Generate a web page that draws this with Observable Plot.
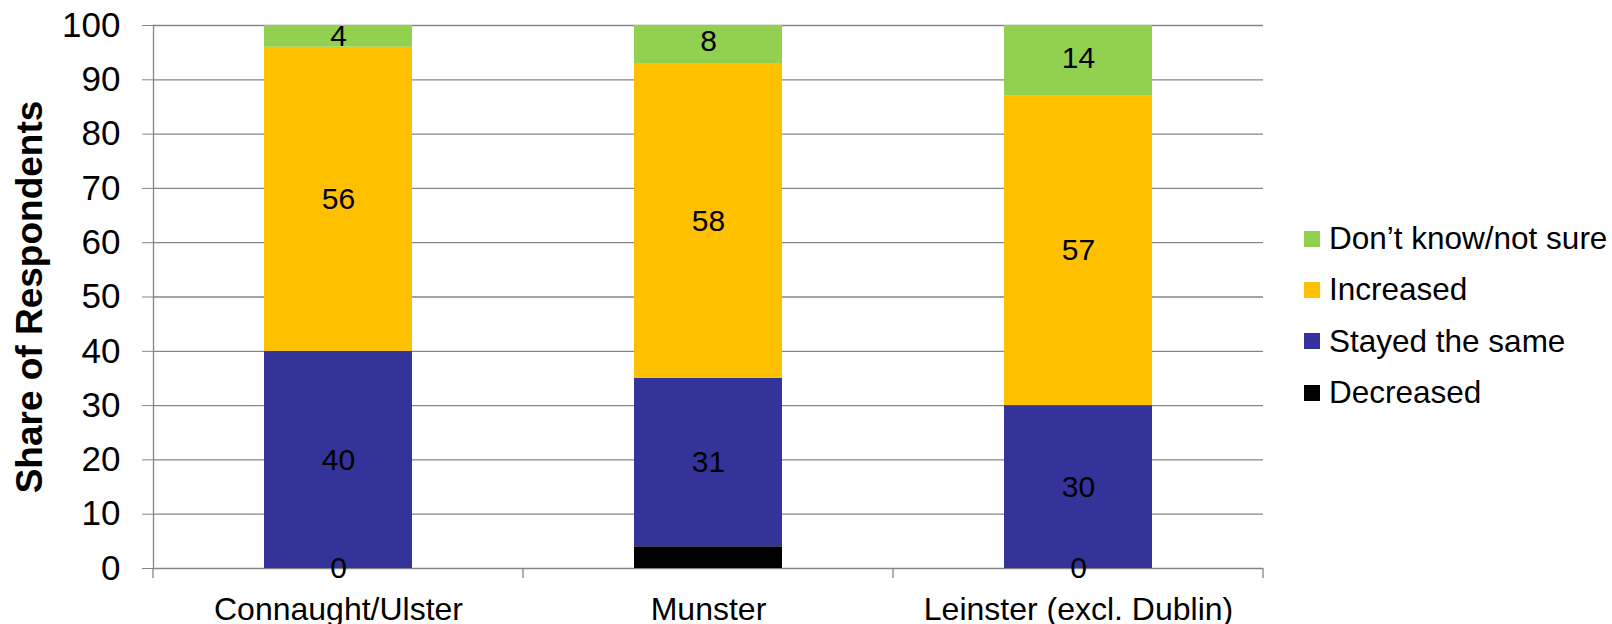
<!DOCTYPE html>
<html>
<head>
<meta charset="utf-8">
<script src="https://cdn.jsdelivr.net/npm/d3@7"></script>
<script src="https://cdn.jsdelivr.net/npm/@observablehq/plot@0.6"></script>
<style>
  html, body { margin: 0; padding: 0; background: #fff; }
  #wrap { position: relative; width: 1612px; height: 624px; font-family: "Liberation Sans", Arial, sans-serif; }
  #legend { position: absolute; left: 1304px; top: 213px; }
  .row { display: flex; align-items: center; height: 51.3px; font-size: 31.5px; color: #000; white-space: nowrap; }
  .sw { width: 16px; height: 16px; margin-right: 9px; flex: none; }
</style>
</head>
<body>
<div id="wrap"><div id="legend"></div></div>
<script>
// Regions and response categories (stacked bottom to top)
const regions = ["Connaught/Ulster", "Munster", "Leinster (excl. Dublin)"];
const series = ["Decreased", "Stayed the same", "Increased", "Don’t know/not sure"];
const seriesColors = ["#000000", "#333399", "#FFC000", "#92D050"];

// Share of respondents (%) per region
const decreased = [0, 4, 0];
const stayedSame = [40, 31, 30];
const increased = [56, 58, 57];
const dontKnow = [4, 8, 14];

const yTicks = [0, 10, 20, 30, 40, 50, 60, 70, 80, 90, 100];

const valuesBySeries = [decreased, stayedSame, increased, dontKnow];
const rows = series.flatMap((s, si) =>
  regions.map((r, ri) => ({region: r, series: s, value: valuesBySeries[si][ri]}))
);

const grey = "#868686";
const font = "'Liberation Sans', Arial, sans-serif";

const chart = Plot.plot({
  width: 1612,
  height: 624,
  marginLeft: 153,
  marginRight: 349,
  marginTop: 25,
  marginBottom: 56,
  style: {fontFamily: font, fontSize: "32px", color: "#000", background: "transparent", overflow: "visible"},
  x: {domain: regions, paddingInner: 0.6, paddingOuter: 0.3, label: null},
  y: {domain: [0, 100], ticks: yTicks},
  color: {domain: series, range: seriesColors},
  marks: [
    Plot.gridY(yTicks, {stroke: grey, strokeOpacity: 1, strokeWidth: 1.3}),
    Plot.frame({anchor: "left", stroke: grey, strokeWidth: 1.3}),
    Plot.barY(rows, Plot.stackY({x: "region", y: "value", fill: "series", order: null, clip: true})),
    Plot.text(rows, Plot.stackY({x: "region", y: "value", z: "series", text: "value", order: null, fill: "#000", fontSize: 30})),
    Plot.axisY({ticks: yTicks, tickSize: 11, tickPadding: 22, stroke: grey, strokeOpacity: 1, fontSize: 35, label: null}),
    Plot.axisY({ticks: [], label: "Share of Respondents", labelAnchor: "center", labelOffset: 138, labelArrow: "none", fontWeight: "bold", fontSize: 37}),
    Plot.axisX({tickSize: 0, tickPadding: 29, fontSize: 32, label: null})
  ]
});

// Category separator ticks below the baseline, at the band boundaries
const xs = chart.scale("x");
const y0 = chart.scale("y").apply(0);
d3.select(chart).append("g")
  .attr("stroke", grey)
  .attr("stroke-width", 1.3)
  .selectAll("line")
  .data(d3.range(regions.length + 1))
  .join("line")
  .attr("x1", i => xs.range[0] + i * xs.step)
  .attr("x2", i => xs.range[0] + i * xs.step)
  .attr("y1", y0)
  .attr("y2", y0 + 10);

document.getElementById("wrap").prepend(chart);

// Legend, listed top to bottom in reverse stacking order
const legend = d3.select("#legend");
series.slice().reverse().forEach(s => {
  const row = legend.append("div").attr("class", "row");
  row.append("div").attr("class", "sw").style("background", seriesColors[series.indexOf(s)]);
  row.append("span").text(s);
});
</script>
</body>
</html>
